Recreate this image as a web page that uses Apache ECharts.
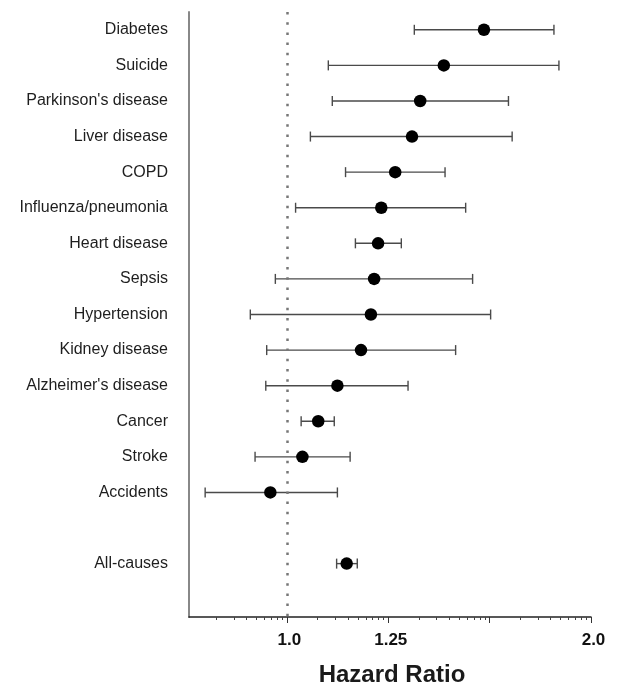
<!DOCTYPE html>
<html>
<head>
<meta charset="utf-8">
<script src="https://cdn.jsdelivr.net/npm/echarts@6/dist/echarts.min.js"></script>
<style>
html,body{margin:0;padding:0;background:#fff;}
#chart{width:622px;height:694px;}
</style>
</head>
<body>
<div id="chart"></div>
<script>
// ---- data ----
const causes = ["Diabetes","Suicide","Parkinson's disease","Liver disease","COPD","Influenza/pneumonia","Heart disease","Sepsis","Hypertension","Kidney disease","Alzheimer's disease","Cancer","Stroke","Accidents"," ","All-causes","  "];
const hrNames = ["Diabetes","Suicide","Parkinson's disease","Liver disease","COPD","Influenza/pneumonia","Heart disease","Sepsis","Hypertension","Kidney disease","Alzheimer's disease","Cancer","Stroke","Accidents","All-causes"];
const hr    = [1.567,1.430,1.355,1.330,1.280,1.240,1.231,1.220,1.211,1.184,1.122,1.074,1.036,0.963,1.146];
const lower = [1.337,1.099,1.109,1.055,1.143,1.020,1.169,0.974,0.920,0.955,0.953,1.033,0.930,0.830,1.120];
const upper = [1.838,1.859,1.657,1.671,1.434,1.503,1.298,1.527,1.591,1.469,1.318,1.114,1.155,1.122,1.174];
const tickLabelValues = [1, Math.cbrt(2), 2];
const tickLabelTexts = ["1.0", "1.25", "2.0"];
const axisMin = 0.8, axisMax = 2;

// ---- axis tick positions (log cycles of ratio 2^(1/3)) ----
const b = Math.cbrt(2);
const majorTicks = [];
const minorTicks = [];
for (let k = -1; k <= 3; k++) {
  const a = Math.pow(b, k);
  if (a >= axisMin - 1e-9 && a <= axisMax + 1e-9) majorTicks.push(a);
  if (k < 3) {
    for (let j = 2; j <= 9; j++) {
      const v = a * Math.pow(b, Math.log10(j));
      if (v >= axisMin && v <= axisMax) minorTicks.push(v);
    }
  }
}

const barData = hrNames.map((n, i) => [lower[i], upper[i], causes.indexOf(n)]);
const pointData = hrNames.map((n, i) => [hr[i], n]);

const chart = echarts.init(document.getElementById('chart'), null, {renderer: 'canvas'});
const fontFam = "'Liberation Sans', Arial, sans-serif";

chart.setOption({
  animation: false,
  backgroundColor: '#fff',
  grid: {left: 189, right: 31, top: 12, bottom: 77, containLabel: false},
  xAxis: [{
    type: 'log',
    logBase: b,
    min: axisMin,
    max: axisMax,
    position: 'bottom',
    name: 'Hazard Ratio',
    nameLocation: 'middle',
    nameGap: 46,
    nameTextStyle: {fontFamily: fontFam, fontSize: 24, fontWeight: 'bold', color: '#1a1a1a', padding: [0,0,0,4]},
    axisLine: {show: true, lineStyle: {color: '#222', width: 1.5}},
    axisTick: {show: true, inside: false, length: 6, lineStyle: {color: '#333', width: 1}, customValues: majorTicks},
    axisLabel: {
      show: true, margin: 15, fontFamily: fontFam, fontSize: 17, fontWeight: 'bold', color: '#111',
      customValues: tickLabelValues,
      padding: [0,0,0,5],
      formatter: function (v) {
        let best = 0, d = Infinity;
        tickLabelValues.forEach((t, i) => { const dd = Math.abs(Math.log(t) - Math.log(v)); if (dd < d) { d = dd; best = i; } });
        return tickLabelTexts[best];
      }
    },
    splitLine: {show: false},
    minorTick: {show: false}
  }, {
    type: 'log',
    logBase: b,
    min: axisMin,
    max: axisMax,
    position: 'bottom',
    axisLine: {show: false},
    axisTick: {show: true, inside: false, length: 3, lineStyle: {color: '#444', width: 1}, customValues: minorTicks},
    axisLabel: {show: false},
    splitLine: {show: false}
  }],
  yAxis: {
    type: 'category',
    data: causes,
    inverse: true,
    axisLine: {show: true, lineStyle: {color: '#888', width: 2}},
    axisTick: {show: false},
    axisLabel: {margin: 21, fontFamily: fontFam, fontSize: 16, color: '#1e1e1e'},
    splitLine: {show: false}
  },
  series: [{
    type: 'custom',
    xAxisIndex: 0,
    data: barData,
    encode: {x: [0, 1], y: 2},
    z: 2,
    renderItem: function (params, api) {
      const y = api.value(2);
      const p0 = api.coord([api.value(0), y]);
      const p1 = api.coord([api.value(1), y]);
      const h = 5;
      const st = {stroke: '#4a4a4a', lineWidth: 1.4};
      return {
        type: 'group',
        children: [
          {type: 'line', shape: {x1: p0[0], y1: p0[1], x2: p1[0], y2: p1[1]}, style: st},
          {type: 'line', shape: {x1: p0[0], y1: p0[1] - h, x2: p0[0], y2: p0[1] + h}, style: st},
          {type: 'line', shape: {x1: p1[0], y1: p1[1] - h, x2: p1[0], y2: p1[1] + h}, style: st}
        ]
      };
    }
  }, {
    type: 'scatter',
    xAxisIndex: 0,
    data: pointData,
    symbol: 'circle',
    symbolSize: 12.5,
    itemStyle: {color: '#000', opacity: 1},
    z: 3,
    markLine: {
      silent: true,
      symbol: 'none',
      label: {show: false},
      lineStyle: {type: [2.5, 7.7], width: 2.5, color: '#777', cap: 'butt', opacity: 1},
      data: [{xAxis: 1}]
    }
  }]
});
</script>
</body>
</html>
